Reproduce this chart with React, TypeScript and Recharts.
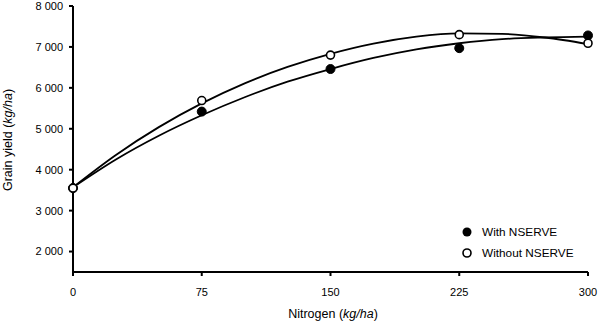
import React from 'react';
import {
    ComposedChart,
    Line,
    Scatter,
    XAxis,
    YAxis
} from 'recharts';

// measured points (kg/ha)
const nitrogen = [0, 75, 150, 225, 300];
const withNserve = [3550, 5420, 6460, 6970, 7280];
const withoutNserve = [3550, 5690, 6800, 7300, 7090];

// trend curves
const curveX = [0, 25, 50, 75, 100, 125, 150, 175, 200, 225, 250, 275, 300];
const withCurve = [3570, 4250, 4830, 5330, 5770, 6150, 6460, 6730, 6940, 7090, 7190, 7230, 7250];
const withoutCurve = [3570, 4360, 5040, 5620, 6110, 6510, 6830, 7080, 7250, 7330, 7320, 7230, 7070];

const seriesNames = ['With NSERVE', 'Without NSERVE'];
const xTicks = [0, 75, 150, 225, 300];
const yTicks = [2000, 3000, 4000, 5000, 6000, 7000, 8000];

const FONT = '"Liberation Sans", Arial, sans-serif';

const withPts = nitrogen.map((n, i) => ({ x: n, y: withNserve[i] }));
const withoutPts = nitrogen.map((n, i) => ({ x: n, y: withoutNserve[i] }));
const withLine = curveX.map((n, i) => ({ x: n, y: withCurve[i] }));
const withoutLine = curveX.map((n, i) => ({ x: n, y: withoutCurve[i] }));

const fmt = (v: number) => {
    const s = String(v);
    return s.length > 3 ? s.slice(0, s.length - 3) + ' ' + s.slice(-3) : s;
};

const FilledDot = (p: any) => <circle cx={p.cx} cy={p.cy} r={4.5} fill="#000" stroke="#000" />;
const OpenDot = (p: any) => <circle cx={p.cx} cy={p.cy} r={4} fill="#fff" stroke="#000" strokeWidth={1.6} />;

const LegendBox = () => (
    <svg width={130} height={44} style={{ position: 'absolute', left: 460, top: 222 }}>
        <circle cx={7} cy={10} r={4.5} fill="#000" />
        <text x={22} y={14} fontSize={11.8} fontFamily={FONT} fill="#000">{seriesNames[0]}</text>
        <circle cx={7} cy={31} r={4} fill="#fff" stroke="#000" strokeWidth={1.6} />
        <text x={22} y={35} fontSize={11.8} fontFamily={FONT} fill="#000">{seriesNames[1]}</text>
    </svg>
);

const YTitle = () => (
    <text x={12} y={140} transform="rotate(-90, 12, 140)" textAnchor="middle" fontSize={12.5} fontFamily={FONT} fill="#000">
        Grain yield (<tspan fontStyle="italic">kg/ha</tspan>)
    </text>
);

const XTitle = () => (
    <text x={333} y={318} textAnchor="middle" fontSize={12.5} fontFamily={FONT} fill="#000">
        Nitrogen (<tspan fontStyle="italic">kg/ha</tspan>)
    </text>
);

export default function App() {
    return (
        <div style={{ position: 'absolute', left: 0, top: 0, width: 599, height: 326, background: '#fff' }}>
            <ComposedChart width={599} height={326} margin={{ top: 6, right: 11, bottom: 0, left: 0 }}>
                <XAxis
                    type="number"
                    dataKey="x"
                    domain={[0, 300]}
                    ticks={xTicks}
                    height={54}
                    stroke="#000"
                    strokeWidth={2}
                    tickSize={4}
                    tickMargin={12}
                    tick={{ fill: '#000', fontSize: 11, fontFamily: FONT }}
                    label={<XTitle />}
                />
                <YAxis
                    type="number"
                    dataKey="y"
                    domain={[1500, 8000]}
                    ticks={yTicks}
                    width={73}
                    stroke="#000"
                    strokeWidth={2}
                    tickSize={4}
                    tickMargin={6}
                    tickFormatter={fmt}
                    tick={{ fill: '#000', fontSize: 11, fontFamily: FONT }}
                    label={<YTitle />}
                />
                <Line data={withLine} dataKey="y" name={seriesNames[0]} type="monotone" stroke="#000" strokeWidth={1.8} dot={false} isAnimationActive={false} />
                <Line data={withoutLine} dataKey="y" name={seriesNames[1]} type="monotone" stroke="#000" strokeWidth={1.8} dot={false} isAnimationActive={false} />
                <Scatter data={withPts} dataKey="y" shape={<FilledDot />} isAnimationActive={false} />
                <Scatter data={withoutPts} dataKey="y" shape={<OpenDot />} isAnimationActive={false} />
            </ComposedChart>
            <LegendBox />
        </div>
    );
}
